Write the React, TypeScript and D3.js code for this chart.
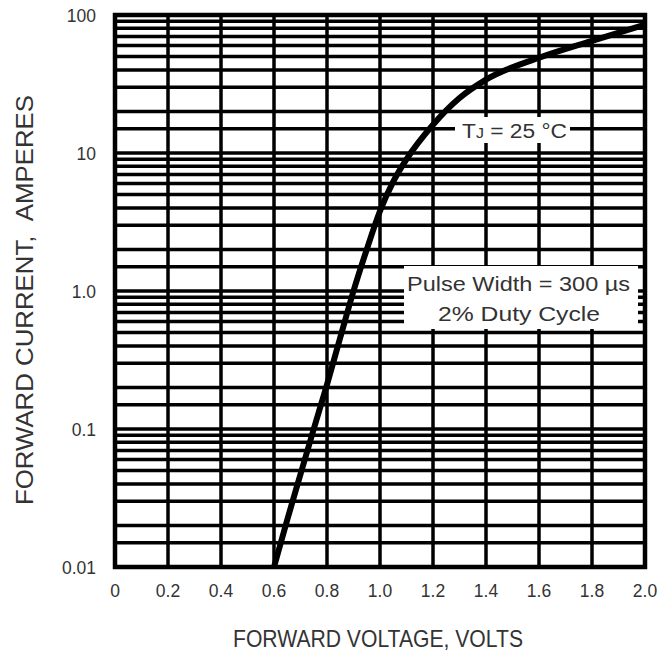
import React from 'react';
import * as d3 from 'd3';

// values
const voltage = [0.6, 0.65, 0.7, 0.75, 0.8, 0.85, 0.9, 0.95, 1.0, 1.05, 1.1, 1.2, 1.3, 1.4, 1.6, 1.8, 2.0];
const current = [0.01, 0.022, 0.047, 0.1, 0.21, 0.46, 1.0, 2.0, 3.8, 6.2, 9, 16, 25, 34, 49, 65, 85];
const xTicks = [0, 0.2, 0.4, 0.6, 0.8, 1.0, 1.2, 1.4, 1.6, 1.8, 2.0];
const xTickLabels = ['0', '0.2', '0.4', '0.6', '0.8', '1.0', '1.2', '1.4', '1.6', '1.8', '2.0'];
const yTicks = [100, 10, 1, 0.1, 0.01];
const yTickLabels = ['100', '10', '1.0', '0.1', '0.01'];
const decades = [0.01, 0.1, 1, 10];
const gridSteps = [1, 1.5, 2, 3, 4, 5, 6, 7, 8, 9];

const W = 660;
const H = 657;
const font = '"Liberation Sans", Arial, Helvetica, sans-serif';
const textColor = '#333';

const App = () => {
	const x = d3.scaleLinear().domain([0, 2]).range([115, 645]);
	const y = d3.scaleLog().domain([0.01, 100]).range([567, 15]);

	const hGrid = decades.flatMap((d) => gridSteps.map((s) => d * s)).concat([100]);
	const pts = voltage.map((v, i) => [x(v), y(current[i])] as [number, number]);
	const path = d3.line().curve(d3.curveMonotoneX)(pts) || '';

	return (
		<div style={ { position: 'absolute', left: 0, top: 0 } }>
			<svg width={ W } height={ H } style={ { display: 'block', background: '#fff' } }>
				<g stroke="#000" strokeWidth={ 3.5 }>
					{ hGrid.map((v, i) => (
						<line key={ `h${ i }` } x1={ x(0) } x2={ x(2) } y1={ y(v) } y2={ y(v) }/>
					)) }
					{ xTicks.map((v, i) => (
						<line key={ `v${ i }` } x1={ x(v) } x2={ x(v) } y1={ y(100) } y2={ y(0.01) }/>
					)) }
				</g>
				<rect x={ x(0) } y={ y(100) } width={ x(2) - x(0) } height={ y(0.01) - y(100) }
					fill="none" stroke="#000" strokeWidth={ 4.5 }/>
				<path d={ path } fill="none" stroke="#000" strokeWidth={ 6 }/>

				<rect x={ 455 } y={ 117 } width={ 115 } height={ 26 } fill="#fff"/>
				<text x={ 462 } y={ 138 } fontFamily={ font } fontSize={ 20 } fill={ textColor }
					textLength={ 105 } lengthAdjust="spacingAndGlyphs">
					T<tspan fontSize={ 14 }>J</tspan> = 25 °C
				</text>

				<rect x={ 404 } y={ 266 } width={ 234 } height={ 63 } fill="#fff"/>
				<text x={ 407 } y={ 291 } fontFamily={ font } fontSize={ 20 } fill={ textColor }
					textLength={ 223 } lengthAdjust="spacingAndGlyphs">
					Pulse Width = 300 µs
				</text>
				<text x={ 438 } y={ 321 } fontFamily={ font } fontSize={ 20 } fill={ textColor }
					textLength={ 162 } lengthAdjust="spacingAndGlyphs">
					2% Duty Cycle
				</text>

				{ yTicks.map((v, i) => (
					<text key={ `yt${ i }` } x={ 96 } y={ y(v) + 7 } textAnchor="end"
						fontFamily={ font } fontSize={ 17.5 } fill={ textColor }>{ yTickLabels[i] }</text>
				)) }
				{ xTicks.map((v, i) => (
					<text key={ `xt${ i }` } x={ x(v) } y={ 597 } textAnchor="middle"
						fontFamily={ font } fontSize={ 17.5 } fill={ textColor }>{ xTickLabels[i] }</text>
				)) }
				<text x={ 233 } y={ 647 } fontFamily={ font } fontSize={ 24 } fill={ textColor }
					textLength={ 290 } lengthAdjust="spacingAndGlyphs">
					FORWARD VOLTAGE, VOLTS
				</text>
				<text transform="translate(33,505) rotate(-90)" fontFamily={ font } fontSize={ 24 }
					fill={ textColor } textLength={ 410 } lengthAdjust="spacingAndGlyphs">
					FORWARD CURRENT,{ '\u00a0\u00a0' }AMPERES
				</text>
			</svg>
		</div>
	);
};

export default App;
